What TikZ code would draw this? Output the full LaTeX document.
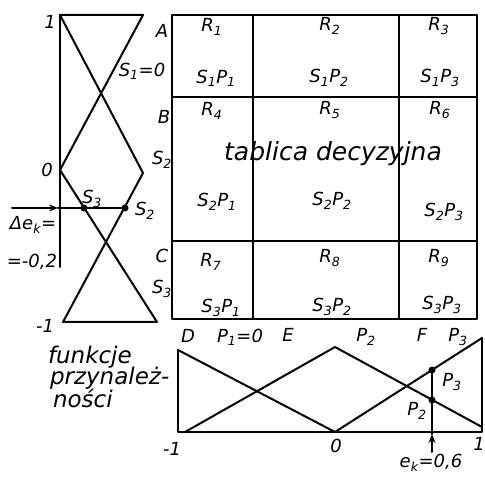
\documentclass[tikz,border=0pt]{standalone}
\usepackage{fontspec}
\setmainfont{DejaVu Sans}
\usetikzlibrary{arrows.meta}
\newcommand{\sbs}[1]{\textsubscript{#1}}
\begin{document}
\begin{tikzpicture}[x=1pt,y=-1pt,line width=2pt,line join=round,line cap=round,
  lbl/.style={font=\itshape\fontsize{18}{18}\selectfont,inner sep=0pt},
  big/.style={font=\itshape\fontsize{25}{25}\selectfont,inner sep=0pt},
  word/.style={font=\itshape\fontsize{23}{23}\selectfont,inner sep=0pt},
  dot/.style={circle,fill,inner sep=0pt,minimum size=7pt},
  arr/.style={-{Stealth[length=9pt,width=7pt]}}]
\useasboundingbox (0,0) rectangle (485,478);
% ---------- left panel: membership functions of Delta e ----------
\coordinate (Ltl) at (60,15);
\coordinate (Ltr) at (143,15);
\coordinate (Lml) at (60,170);
\coordinate (Lmr) at (143,173);
\coordinate (Lbl) at (63,322);
\coordinate (Lbr) at (157,322);
\coordinate (Laxb) at (60,267);
\draw (Ltl) -- (Laxb);
\draw (Ltl) -- (Ltr) -- (Lml) -- (Lbr) -- (Lbl) -- (Lmr) -- cycle;
\coordinate (Astart) at (12,208);
\coordinate (Aend) at (58,208);
\node[dot] (ds3) at (84,208) {};
\node[dot] (ds2) at (125,208) {};
\draw[arr] (Astart) -- (Aend);
\draw (Aend) -- (ds2.center);
\node[lbl] (n1) at (50,22) {1};
\node[lbl] (n0) at (47,170) {0};
\node[lbl] (nm1) at (45,326) {-1};
\node[lbl] (ls3) at (92,199) {S\sbs{3}};
\node[lbl] (ls2) at (145,211) {S\sbs{2}};
\node[lbl] (dek) at (33,225) {Δe\sbs{k}=};
\node[lbl] (dev) at (32,262) {=-0,2};
\node[word,anchor=west] (f1) at (47,357) {funkcje};
\node[word,anchor=west] (f2) at (49,378) {przynależ-};
\node[word,anchor=west] (f3) at (52,398) {ności};
% ---------- row labels ----------
\node[lbl] (lA) at (162,31) {A};
\node[lbl] (ls1) at (142,71) {S\sbs{1}=0};
\node[lbl] (lB) at (164,117) {B};
\node[lbl] (lS2) at (162,160) {S\sbs{2}};
\node[lbl] (lC) at (162,256) {C};
\node[lbl] (lS3) at (162,289) {S\sbs{3}};
% ---------- decision table ----------
\draw (172,15) rectangle (477,319);
\draw (172,97) -- (477,97);
\draw (172,241) -- (477,241);
\draw (253,15) -- (253,319);
\draw (399,15) -- (399,319);
\node[lbl] (r1) at (212,27) {R\sbs{1}};
\node[lbl] (r2) at (330,26) {R\sbs{2}};
\node[lbl] (r3) at (439,26) {R\sbs{3}};
\node[lbl] (c11) at (216,78) {S\sbs{1}P\sbs{1}};
\node[lbl] (c12) at (329,78) {S\sbs{1}P\sbs{2}};
\node[lbl] (c13) at (440,78) {S\sbs{1}P\sbs{3}};
\node[lbl] (r4) at (212,111) {R\sbs{4}};
\node[lbl] (r5) at (330,110) {R\sbs{5}};
\node[lbl] (r6) at (440,110) {R\sbs{6}};
\node[big] (tab) at (333,154) {tablica decyzyjna};
\node[lbl] (c21) at (217,202) {S\sbs{2}P\sbs{1}};
\node[lbl] (c22) at (332,201) {S\sbs{2}P\sbs{2}};
\node[lbl] (c23) at (444,212) {S\sbs{2}P\sbs{3}};
\node[lbl] (r7) at (211,262) {R\sbs{7}};
\node[lbl] (r8) at (330,258) {R\sbs{8}};
\node[lbl] (r9) at (439,258) {R\sbs{9}};
\node[lbl] (c31) at (221,308) {S\sbs{3}P\sbs{1}};
\node[lbl] (c32) at (332,307) {S\sbs{3}P\sbs{2}};
\node[lbl] (c33) at (442,305) {S\sbs{3}P\sbs{3}};
% ---------- bottom panel: membership functions of e ----------
\node[lbl] (lD) at (188,336) {D};
\node[lbl] (lP1) at (240,337) {P\sbs{1}=0};
\node[lbl] (lE) at (288,335) {E};
\node[lbl] (lP2) at (366,337) {P\sbs{2}};
\node[lbl] (lF) at (422,335) {F};
\node[lbl] (lP3) at (458,337) {P\sbs{3}};
\coordinate (Btl) at (178,350);
\coordinate (Bbl) at (178,432);
\coordinate (Bbr) at (482,432);
\coordinate (Btr) at (482,338);
\coordinate (Bb0) at (335,432);
\coordinate (Bt0) at (335,347);
\coordinate (Bbs) at (185,432);
\coordinate (Bre) at (482,427);
\draw (Btl) -- (Bbl) -- (Bbr) -- (Btr);
\draw (Btl) -- (Bb0);
\draw (Bbs) -- (Bt0) -- (Bre);
\draw (Bb0) -- (Btr);
\node[dot] (dp3) at (432,370) {};
\node[dot] (dp2) at (432,400) {};
\coordinate (ekb) at (432,452);
\coordinate (ekt) at (432,434);
\draw[arr] (ekb) -- (ekt);
\draw (ekt) -- (dp3.center);
\node[lbl] (bm1) at (172,449) {-1};
\node[lbl] (b0) at (336,446) {0};
\node[lbl] (b1) at (479,444) {1};
\node[lbl] (ip3) at (452,382) {P\sbs{3}};
\node[lbl] (ip2) at (417,411) {P\sbs{2}};
\node[lbl] (ek) at (431,463) {e\sbs{k}=0,6};
\end{tikzpicture}
\end{document}
